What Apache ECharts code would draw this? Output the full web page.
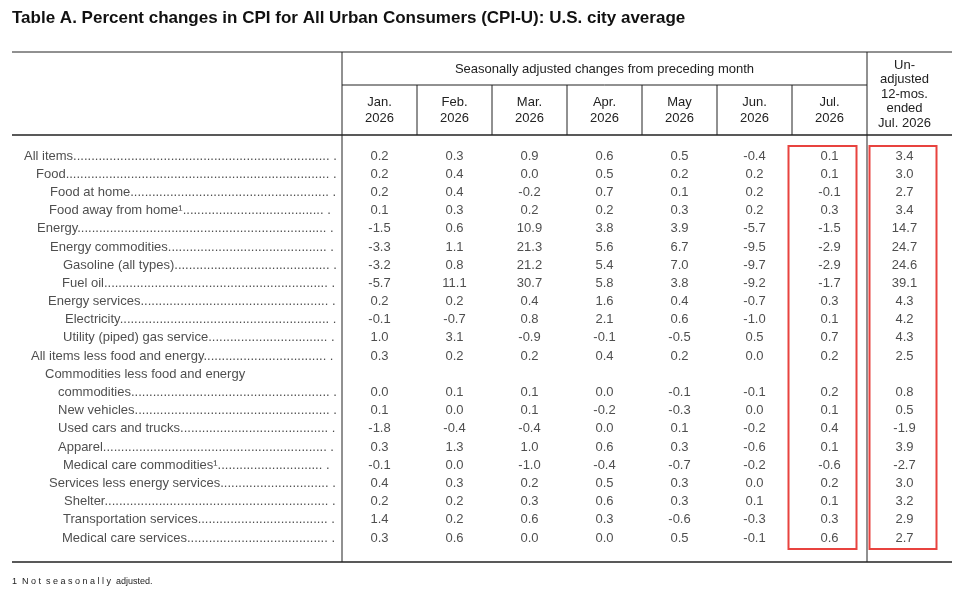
<!DOCTYPE html>
<html><head><meta charset="utf-8">
<script src="https://cdn.jsdelivr.net/npm/echarts@6/dist/echarts.min.js"></script>
<style>html,body{margin:0;background:#fff}#c{width:969px;height:596px}</style>
</head><body><div id="c"></div>
<script>
(function(){
const rowNames = ["All items","Food","Food at home","Food away from home¹","Energy","Energy commodities","Gasoline (all types)","Fuel oil","Energy services","Electricity","Utility (piped) gas service","All items less food and energy","Commodities less food and energy","commodities","New vehicles","Used cars and trucks","Apparel","Medical care commodities¹","Services less energy services","Shelter","Transportation services","Medical care services"];
const indent = [24,36,50,49,37,50,63,62,48,65,63,31,45,58,58,58,58,63,49,64,63,62];
const columns = ["Jan.\n2026","Feb.\n2026","Mar.\n2026","Apr.\n2026","May\n2026","Jun.\n2026","Jul.\n2026","Un-\nadjusted\n12-mos.\nended\nJul. 2026"];
const values = [
[0.2,0.3,0.9,0.6,0.5,-0.4,0.1,3.4],
[0.2,0.4,0.0,0.5,0.2,0.2,0.1,3.0],
[0.2,0.4,-0.2,0.7,0.1,0.2,-0.1,2.7],
[0.1,0.3,0.2,0.2,0.3,0.2,0.3,3.4],
[-1.5,0.6,10.9,3.8,3.9,-5.7,-1.5,14.7],
[-3.3,1.1,21.3,5.6,6.7,-9.5,-2.9,24.7],
[-3.2,0.8,21.2,5.4,7.0,-9.7,-2.9,24.6],
[-5.7,11.1,30.7,5.8,3.8,-9.2,-1.7,39.1],
[0.2,0.2,0.4,1.6,0.4,-0.7,0.3,4.3],
[-0.1,-0.7,0.8,2.1,0.6,-1.0,0.1,4.2],
[1.0,3.1,-0.9,-0.1,-0.5,0.5,0.7,4.3],
[0.3,0.2,0.2,0.4,0.2,0.0,0.2,2.5],
null,
[0.0,0.1,0.1,0.0,-0.1,-0.1,0.2,0.8],
[0.1,0.0,0.1,-0.2,-0.3,0.0,0.1,0.5],
[-1.8,-0.4,-0.4,0.0,0.1,-0.2,0.4,-1.9],
[0.3,1.3,1.0,0.6,0.3,-0.6,0.1,3.9],
[-0.1,0.0,-1.0,-0.4,-0.7,-0.2,-0.6,-2.7],
[0.4,0.3,0.2,0.5,0.3,0.0,0.2,3.0],
[0.2,0.2,0.3,0.6,0.3,0.1,0.1,3.2],
[1.4,0.2,0.6,0.3,-0.6,-0.3,0.3,2.9],
[0.3,0.6,0.0,0.0,0.5,-0.1,0.6,2.7]
];
const FONT = "Liberation Sans, Arial, sans-serif";
const cellData = [];
values.forEach((r,i)=>{ if(r) r.forEach((v,j)=>cellData.push([j,i,v])); });
const labelData = rowNames.map((n,i)=>({value:[indent[i],i],name:n,
  label:{width:i===12?400:(338-indent[i])}}));
const chart = echarts.init(document.getElementById('c'));
chart.setOption({
  animation:false,
  grid:[{left:342,right:27,top:146.9,height:400.2},{left:0,width:342,top:146.9,height:400.2}],
  xAxis:[{type:'category',data:columns,gridIndex:0,show:false},
         {type:'value',min:0,max:342,gridIndex:1,show:false}],
  yAxis:[{type:'category',data:rowNames,inverse:true,gridIndex:0,show:false},
         {type:'category',data:rowNames,inverse:true,gridIndex:1,show:false}],
  series:[
    {type:'scatter',xAxisIndex:0,yAxisIndex:0,symbolSize:0,data:cellData,
     label:{show:true,position:'inside',formatter:p=>p.value[2].toFixed(1),fontFamily:FONT,fontSize:13,color:'#222'}},
    {type:'scatter',xAxisIndex:1,yAxisIndex:1,symbolSize:0,data:labelData,
     label:{show:true,position:'right',distance:0,fontFamily:FONT,fontSize:13,color:'#222',
       formatter:p=>p.dataIndex===12?p.name:p.name+'.'.repeat(120),
       overflow:'truncate',ellipsis:' .'}}
  ]
});
const cx = j=>chart.convertToPixel({xAxisIndex:0},columns[j]);
const ry = i=>chart.convertToPixel({yAxisIndex:0},rowNames[i]);
const g = [];
const L=(x1,y1,x2,y2,w)=>g.push({type:'line',shape:{x1,y1,x2,y2},style:{stroke:'#222',lineWidth:w||1}});
L(12,52,952,52); L(12,135,952,135,1.3); L(12,562,952,562,1.3);
L(342,52,342,562); L(867,52,867,562); L(342,85,867,85);
for(let j=0;j<6;j++){const x=(cx(j)+cx(j+1))/2; L(x,85,x,135);}
g.push({type:'text',left:12,top:10,style:{text:'Table A. Percent changes in CPI for All Urban Consumers (CPI-U): U.S. city average',font:'bold 17px '+FONT,fill:'#111'}});
g.push({type:'text',x:(342+867)/2,y:69,style:{text:'Seasonally adjusted changes from preceding month',font:'13px '+FONT,fill:'#222',align:'center',verticalAlign:'middle'}});
for(let j=0;j<7;j++) g.push({type:'text',x:cx(j),y:110,style:{text:columns[j],font:'13px '+FONT,fill:'#222',align:'center',verticalAlign:'middle',lineHeight:16}});
g.push({type:'text',x:cx(7),y:94,style:{text:columns[7],font:'13px '+FONT,fill:'#222',align:'center',verticalAlign:'middle',lineHeight:14.5}});
g.push({type:'text',left:12,top:577,style:{text:'1  N o t  s e a s o n a l l y  adjusted.',font:'9px '+FONT,fill:'#222'}});
const boxTop=ry(0)-10, boxBot=ry(21)+11;
g.push({type:'rect',shape:{x:cx(6)-41,y:boxTop,width:68,height:boxBot-boxTop},style:{fill:'none',stroke:'#e8433f',lineWidth:2}});
g.push({type:'rect',shape:{x:cx(7)-35,y:boxTop,width:67,height:boxBot-boxTop},style:{fill:'none',stroke:'#e8433f',lineWidth:2}});
chart.setOption({graphic:g});
})();
</script></body></html>
